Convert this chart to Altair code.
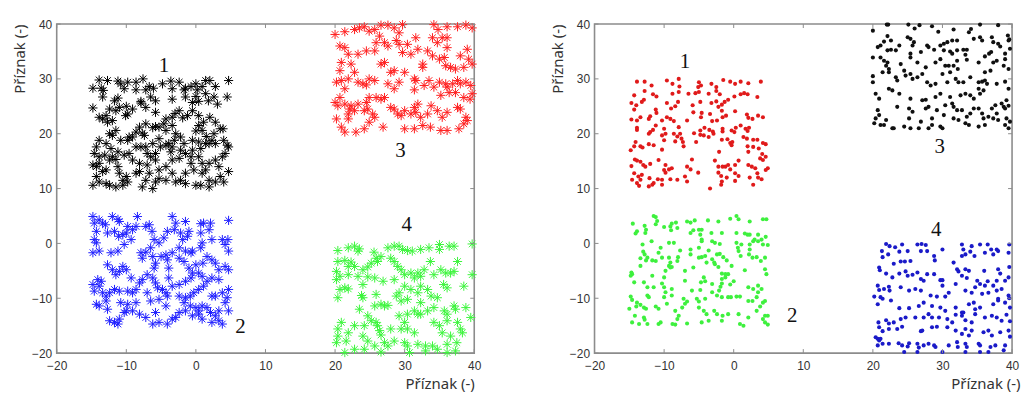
import altair as alt
import pandas as pd

# ---------------- data ----------------
tick_values = [-20, -10, 0, 10, 20, 30, 40]
label_text = ["1", "2", "3", "4"]
left_label_x = [-4.6, 6.4, 29.4, 30.3]
left_label_y = [32.4, -15.3, 16.8, 3.4]
right_label_x = [-7.0, 8.4, 29.6, 29.1]
right_label_y = [33.1, -13.3, 17.5, 2.5]

# left panel, cluster 1 (black asterisks)
left_c1 = [[-14.8,28.3],[-13.9,29.8],[-13.6,28.3],[-13.3,27.9],[-12.7,29.7],[-13.4,26.7],[-14.8,24.7],[-13.9,23.0],[-13.4,22.7],[-12.9,23.3],
[-12.7,22.1],[-12.0,22.4],[-12.4,24.5],[-11.7,26.0],[-11.2,26.5],[-11.0,24.8],[-11.2,29.6],[-10.0,25.0],[-10.1,23.3],[-9.8,23.6],
[-10.3,28.2],[-10.8,29.1],[-9.8,29.4],[-8.6,28.0],[-8.6,29.4],[-7.9,25.6],[-7.9,25.9],[-7.6,30.0],[-6.7,28.6],[-6.1,28.3],
[-7.2,28.0],[-5.8,26.0],[-4.8,29.1],[-3.6,29.6],[-3.4,26.3],[-3.4,28.2],[-3.0,23.7],[-2.4,29.4],[-1.7,28.0],[-1.5,28.3],
[-0.7,28.6],[0.0,29.1],[0.2,28.0],[0.9,28.6],[0.0,26.8],[0.4,25.9],[1.4,29.7],[2.0,29.7],[2.8,28.6],[4.7,29.7],
[1.8,26.0],[3.1,25.4],[4.5,26.7],[2.6,26.7],[1.4,27.3],[-0.5,25.7],[-1.5,26.7],[-0.5,24.2],[-1.2,23.3],[-1.9,22.9],
[0.4,23.3],[1.1,22.1],[2.0,23.0],[2.8,22.1],[3.5,20.9],[3.9,20.9],[2.6,20.0],[2.3,18.8],[1.5,19.5],[0.9,20.6],
[0.0,20.5],[0.4,18.5],[1.9,18.2],[2.8,18.2],[4.0,18.8],[4.5,17.9],[4.2,16.4],[3.8,15.8],[4.7,17.6],[-2.4,24.2],
[-3.4,23.0],[-4.3,22.7],[-3.4,21.5],[-4.3,20.6],[-4.6,21.8],[-5.3,21.2],[-5.8,21.3],[-6.2,21.1],[-7.2,21.8],[-8.1,21.2],
[-8.6,20.3],[-7.7,20.1],[-7.4,19.7],[-9.1,19.4],[-9.8,18.8],[-9.6,19.4],[-10.8,18.8],[-11.5,20.6],[-12.0,19.7],[-12.4,20.0],
[-12.9,18.2],[-12.2,17.3],[-12.0,15.8],[-11.2,16.7],[-10.3,16.1],[-11.5,15.3],[-12.4,15.2],[-13.1,16.1],[-13.9,15.8],[-14.6,16.4],
[-14.8,14.3],[-14.3,14.0],[-13.9,14.6],[-12.9,13.4],[-13.4,13.1],[-14.3,12.2],[-13.9,11.2],[-14.8,10.6],[-12.9,10.9],[-12.4,10.6],
[-11.5,10.3],[-10.5,10.6],[-10.0,12.2],[-9.8,11.2],[-8.6,12.8],[-8.1,14.6],[-7.9,17.6],[-7.2,17.6],[-7.0,16.4],[-6.5,15.8],
[-5.8,15.2],[-5.8,16.4],[-6.2,18.2],[-5.3,19.1],[-5.1,17.6],[-4.3,17.9],[-3.9,18.2],[-3.4,17.6],[-3.1,18.8],[-2.9,20.0],
[-2.2,19.4],[-1.7,18.2],[-2.2,17.0],[-1.5,16.4],[-0.7,15.8],[-0.5,17.0],[0.4,15.8],[0.9,14.6],[1.9,14.6],[2.8,15.2],
[3.3,14.0],[4.7,13.1],[4.0,11.2],[3.5,12.2],[2.8,11.2],[1.9,11.5],[1.4,13.4],[0.9,12.8],[0.7,10.6],[1.9,10.3],
[0.0,10.6],[-1.5,10.9],[-2.2,11.5],[-2.9,11.2],[-4.3,11.5],[-5.3,11.8],[-5.8,11.2],[-6.2,10.0],[-7.7,10.3],[-7.2,11.5],
[-6.7,12.8],[-8.1,13.1],[-5.3,13.4],[-4.3,14.0],[-3.4,15.2],[-2.4,15.5],[-1.5,12.8],[-0.3,13.4],[0.7,17.3],[1.4,18.2],
[-0.7,14.6],[-3.4,12.8],[-9.1,15.2],[-9.6,16.4],[-8.6,17.6],[-11.0,12.8],[-10.5,11.5],[-11.2,14.0],[-7.0,14.3],[-3.6,16.7],
[-0.5,18.8],[0.4,21.5],[-5.8,23.9],[-6.5,26.7],[-7.2,24.8],[-9.1,24.5],[-11.5,24.2],[-13.9,18.8],[-14.3,17.6]]

# left panel, cluster 2 (blue asterisks)
left_c2 = [[-14.8,4.9],[-14.6,3.7],[-14.8,-1.7],[-14.3,2.2],[-13.9,4.3],[-13.4,3.7],[-13.0,3.4],[-12.7,1.9],[-12.0,4.9],[-11.7,2.2],
[-11.2,4.4],[-11.0,4.0],[-11.1,1.3],[-10.5,1.6],[-10.0,1.9],[-9.8,3.1],[-9.1,2.5],[-8.6,3.1],[-8.4,4.9],[-9.3,0.7],
[-10.3,-0.2],[-11.2,-1.4],[-12.2,-1.7],[-13.9,-1.4],[-14.3,0.1],[-14.6,0.7],[-7.2,3.1],[-6.7,3.4],[-6.3,2.2],[-6.0,0.7],
[-6.5,-0.8],[-7.2,-1.6],[-7.9,-1.7],[-7.7,-2.7],[-6.2,-2.4],[-6.0,-4.5],[-5.8,-3.6],[-5.3,0.1],[-4.6,1.0],[-4.1,2.2],
[-3.4,4.9],[-2.9,3.7],[-3.1,2.5],[-2.2,1.9],[-1.5,4.0],[-1.0,2.2],[-1.2,1.3],[-1.9,0.7],[-2.4,-0.8],[-1.5,-1.4],
[-0.7,-1.7],[-0.5,-1.4],[-3.4,-1.7],[-4.3,-2.1],[-5.0,-2.4],[-4.1,-3.0],[-3.9,-4.5],[-2.4,-2.7],[-1.7,-3.3],[-1.0,-4.5],
[0.0,-3.9],[0.7,3.6],[1.1,3.7],[2.1,3.7],[1.9,2.5],[0.7,1.9],[2.3,0.7],[0.9,0.1],[0.7,-0.8],[1.6,-2.4],
[1.0,-3.6],[2.3,-3.0],[2.8,-3.6],[3.3,-4.8],[4.2,-4.2],[4.7,-4.8],[4.7,-1.4],[4.2,-0.2],[4.6,0.7],[3.8,0.7],
[4.7,4.2],[-14.8,-7.5],[-14.6,-8.7],[-14.1,-6.6],[-13.6,-6.9],[-13.9,-7.8],[-12.7,-3.9],[-12.0,-4.8],[-11.5,-5.7],[-11.0,-5.1],
[-10.5,-4.2],[-10.0,-4.8],[-9.3,-6.3],[-13.4,-9.0],[-12.9,-9.6],[-12.4,-9.0],[-11.7,-8.4],[-11.0,-8.7],[-9.8,-8.7],[-9.1,-9.0],
[-8.6,-8.4],[-8.1,-7.2],[-7.7,-6.6],[-7.0,-5.7],[-6.2,-6.3],[-5.8,-7.2],[-5.5,-8.1],[-4.8,-8.4],[-4.3,-9.0],[-3.9,-6.3],
[-3.4,-7.8],[-2.4,-7.5],[-1.5,-6.9],[-0.7,-6.3],[-0.5,-5.4],[0.4,-5.4],[0.9,-6.0],[1.6,-6.9],[1.1,-7.8],[0.4,-8.4],
[-0.3,-9.0],[-0.8,-9.6],[-1.5,-9.9],[-2.4,-9.6],[-1.7,-10.8],[-0.8,-11.4],[0.0,-11.7],[0.4,-12.3],[0.9,-11.4],[1.6,-11.7],
[2.1,-12.6],[2.8,-13.2],[3.3,-12.3],[4.2,-10.8],[4.7,-8.4],[4.5,-9.9],[3.8,-9.0],[2.8,-9.6],[2.3,-9.6],[3.3,-6.6],
[2.3,-6.3],[-4.1,-9.6],[-5.3,-10.2],[-6.5,-10.5],[-7.0,-9.0],[-14.3,-11.1],[-13.9,-11.4],[-12.7,-12.0],[-12.4,-14.1],[-11.7,-14.4],
[-11.0,-13.8],[-11.2,-14.7],[-10.3,-12.6],[-10.0,-12.3],[-9.1,-12.3],[-8.1,-12.9],[-7.2,-13.5],[-6.2,-14.7],[-5.3,-14.4],[-4.1,-14.7],
[-3.4,-13.8],[-2.9,-13.5],[-2.4,-12.6],[-1.5,-12.3],[-0.5,-13.2],[0.4,-12.9],[0.9,-13.8],[2.3,-14.4],[3.3,-14.1],[3.8,-14.7],
[4.7,-12.3],[-5.8,-12.6],[-4.3,-11.4],[-8.6,-10.8],[-9.8,-11.1],[-10.8,-10.8],[-12.9,-10.5]]

# left panel, cluster 3 (red asterisks)
left_c3 = [[20.0,38.1],[21.4,38.6],[22.8,39.0],[23.5,39.3],[24.2,39.5],[24.9,38.7],[25.7,39.0],[26.6,39.8],[27.6,39.8],[28.5,39.3],
[29.7,39.9],[29.2,38.4],[34.2,39.9],[34.8,39.0],[36.1,39.5],[37.6,39.5],[38.8,39.8],[39.7,39.3],[20.7,36.0],[21.4,35.7],
[21.9,34.5],[20.9,33.0],[20.7,31.5],[22.3,32.7],[23.3,34.5],[24.5,35.1],[25.7,35.1],[25.9,36.6],[26.4,37.8],[27.1,36.6],
[27.6,36.0],[28.8,37.0],[29.2,36.3],[29.7,34.8],[30.4,36.3],[30.9,34.5],[31.6,37.5],[31.9,35.4],[32.6,32.7],[33.3,35.1],
[34.0,34.2],[34.0,37.5],[34.7,36.6],[35.4,37.5],[36.1,37.5],[36.1,35.7],[35.7,33.9],[35.0,33.6],[35.9,32.4],[38.0,34.2],
[39.0,35.4],[39.2,33.6],[38.5,32.1],[39.7,32.7],[37.3,31.8],[36.6,32.1],[20.2,29.4],[20.9,29.7],[21.4,28.2],[20.7,26.6],
[21.9,30.0],[22.8,31.2],[23.3,29.4],[24.0,29.1],[24.5,28.9],[24.9,30.0],[25.7,29.7],[26.6,32.7],[27.1,33.0],[27.6,29.1],
[28.0,31.2],[28.5,31.5],[28.5,28.2],[29.2,29.4],[30.0,31.2],[31.4,30.0],[31.6,29.7],[31.4,28.0],[32.6,32.1],[32.8,28.8],
[33.5,29.7],[34.2,28.5],[35.0,29.4],[35.2,27.0],[35.9,29.1],[36.1,28.5],[36.9,29.1],[37.6,29.7],[38.0,29.1],[38.8,29.4],
[39.5,28.8],[39.7,27.3],[39.4,26.3],[38.5,26.6],[37.3,27.5],[36.4,27.5],[20.0,25.7],[20.4,25.1],[21.4,25.4],[22.3,25.1],
[22.1,24.5],[22.8,24.2],[23.3,25.4],[24.5,25.7],[24.7,24.5],[24.9,26.6],[25.9,26.6],[26.6,26.3],[27.1,26.6],[25.4,23.6],
[25.7,23.0],[24.9,22.1],[24.2,24.2],[21.9,22.7],[20.2,22.7],[20.9,21.2],[21.4,20.3],[23.0,20.3],[24.2,20.9],[26.9,21.2],
[28.0,24.8],[28.5,24.5],[29.5,23.3],[30.0,24.2],[30.9,23.6],[31.4,24.8],[31.9,25.4],[31.6,23.9],[32.3,23.0],[33.3,23.6],
[33.8,25.1],[34.7,24.2],[35.4,23.0],[36.1,23.9],[37.6,24.8],[38.0,24.5],[38.8,23.0],[39.0,22.4],[38.5,21.8],[37.8,20.9],
[36.1,20.6],[35.2,20.6],[33.7,21.2],[32.6,21.5],[31.4,20.9],[30.0,20.9],[29.0,23.6],[21.9,23.6]]

# left panel, cluster 4 (green asterisks)
left_c4 = [[20.4,-1.3],[21.9,-0.8],[22.8,-0.5],[23.5,-1.0],[23.3,-1.4],[25.6,-1.6],[26.1,-3.3],[27.6,-0.8],[28.5,-0.5],[29.2,-0.5],
[29.7,-1.1],[30.4,-1.3],[31.1,-1.4],[32.3,-1.1],[33.5,-0.8],[35.0,-0.2],[35.0,-1.1],[36.4,-0.5],[37.1,-0.5],[39.7,-0.1],
[20.4,-3.3],[21.4,-3.1],[22.3,-3.4],[22.8,-4.2],[20.2,-5.1],[20.7,-6.0],[20.2,-6.6],[21.9,-4.2],[21.9,-5.7],[23.3,-6.0],
[24.0,-4.8],[24.7,-4.3],[25.2,-3.6],[25.9,-2.7],[26.6,-2.4],[24.7,-6.1],[25.7,-6.3],[26.9,-6.9],[24.0,-7.5],[21.4,-8.1],
[20.7,-8.4],[21.9,-8.3],[20.4,-9.9],[23.8,-9.5],[24.0,-9.9],[25.9,-9.3],[28.0,-2.7],[28.5,-3.3],[29.0,-4.2],[29.5,-4.8],
[30.0,-5.7],[30.9,-5.4],[31.4,-6.3],[31.9,-5.4],[32.3,-6.0],[32.8,-4.8],[33.7,-3.3],[34.2,-5.7],[35.2,-4.8],[35.9,-5.4],
[36.6,-5.4],[37.6,-3.3],[37.1,-5.1],[35.6,-7.5],[36.1,-8.1],[38.5,-7.8],[39.7,-5.7],[30.0,-7.8],[30.9,-8.4],[31.9,-9.0],
[32.3,-7.8],[33.3,-8.4],[33.8,-9.6],[32.3,-10.8],[34.7,-9.9],[28.5,-6.6],[29.2,-9.0],[28.8,-9.6],[29.5,-10.5],[30.4,-10.2],
[26.6,-11.1],[27.6,-11.3],[27.1,-11.4],[25.7,-11.4],[23.5,-12.0],[24.7,-13.2],[25.2,-14.1],[25.9,-14.4],[26.1,-15.0],[26.4,-15.9],
[26.6,-16.7],[27.1,-18.1],[28.0,-15.6],[29.5,-15.6],[30.0,-14.4],[30.4,-12.9],[31.4,-12.3],[31.9,-12.9],[30.4,-15.6],[31.4,-16.3],
[32.3,-12.9],[33.3,-12.3],[34.2,-11.7],[35.7,-12.3],[36.1,-12.9],[37.1,-11.4],[37.3,-12.0],[38.8,-11.7],[39.5,-13.5],[37.6,-14.4],
[36.1,-14.1],[35.0,-15.0],[34.2,-14.4],[35.4,-16.3],[36.6,-16.9],[38.3,-16.3],[38.0,-15.6],[37.5,-18.1],[36.1,-18.4],[34.7,-19.3],
[34.0,-18.7],[33.0,-18.7],[31.9,-18.4],[30.4,-18.7],[30.0,-18.1],[28.5,-17.8],[27.6,-18.7],[26.6,-19.8],[24.2,-19.3],[22.8,-19.3],
[21.4,-19.9],[20.2,-18.1],[20.4,-16.9],[20.9,-14.4],[20.4,-15.6],[21.9,-16.3],[22.8,-15.0],[24.2,-15.0],[24.0,-16.9],[24.7,-17.8],
[25.7,-18.7],[21.6,-17.8],[29.2,-13.2],[36.1,-19.9],[37.3,-19.6],[33.0,-19.6],[30.7,-19.9]]

# right panel, cluster 1 (red dots)
right_c1 = [[-13.9,29.5],[-12.8,29.5],[-11.8,28.8],[-9.6,29.7],[-8.8,29.1],[-7.9,30.0],[-7.8,28.6],[-5.0,29.4],[-4.7,28.8],[-5.1,28.5],
[-3.2,29.1],[-2.5,28.5],[-1.5,29.8],[-0.5,29.5],[0.2,29.1],[1.0,29.5],[2.1,29.2],[3.9,29.5],[-14.3,27.0],[-12.8,27.8],
[-11.6,27.2],[-11.1,26.8],[-8.8,27.3],[-7.9,27.6],[-6.5,27.3],[-5.5,27.4],[-5.0,27.6],[-3.6,27.3],[-2.5,27.8],[-2.0,27.2],
[-0.8,26.2],[0.1,26.8],[1.0,27.2],[1.5,27.4],[2.0,27.2],[3.4,26.7],[-14.7,25.6],[-14.0,25.2],[-13.2,25.8],[-12.9,26.2],
[-9.6,25.6],[-8.0,25.8],[-4.8,25.8],[-3.2,25.6],[-2.5,25.9],[-1.7,25.3],[-1.3,25.8],[-14.3,24.4],[-11.2,24.4],[-11.1,23.8],
[-9.0,24.6],[-8.4,25.0],[-5.9,25.2],[-5.8,23.9],[-4.6,23.8],[-3.4,23.6],[-2.2,24.9],[-1.7,24.2],[0.2,24.1],[1.9,23.5],
[3.5,23.3],[-14.7,22.6],[-13.9,22.4],[-13.4,23.0],[-12.2,22.7],[-12.0,23.2],[-10.3,22.4],[-9.6,23.0],[-9.1,22.7],[-8.6,22.3],
[-6.7,22.4],[-4.7,23.0],[-3.1,22.3],[-2.4,22.4],[-1.6,23.0],[-1.1,23.3],[2.1,22.9],[2.7,22.7],[4.2,23.0],[-13.9,21.1],
[-13.9,20.7],[-11.6,20.7],[-11.2,21.5],[-10.0,20.9],[-7.9,21.2],[-5.7,20.1],[-4.8,20.6],[-4.2,21.1],[-3.5,20.7],[-3.0,20.4],
[-2.9,20.0],[-1.6,20.9],[-1.6,20.4],[-0.3,20.6],[0.3,21.1],[0.1,20.3],[1.0,21.5],[1.7,20.9],[2.2,21.1],[2.0,20.5],
[-12.2,20.0],[-12.0,20.3],[-10.3,19.7],[-9.8,20.0],[-8.6,20.0],[-8.1,19.5],[-7.7,20.0],[-7.5,19.1],[-8.4,18.6],[-7.3,18.5],
[-4.8,19.8],[-4.3,19.7],[-3.6,19.4],[-1.7,18.9],[-0.9,19.0],[-0.5,18.3],[-0.2,18.5],[1.4,19.4],[1.9,19.1],[2.8,18.9],
[3.4,18.9],[4.2,18.3],[4.6,18.1],[-14.1,18.5],[-14.3,17.7],[-14.8,17.0],[-13.4,17.7],[-13.1,17.5],[-12.2,18.1],[-11.5,17.9],
[-10.3,17.1],[-10.0,18.8],[-7.2,17.7],[-5.4,18.5],[-2.1,16.7],[-0.3,17.9],[2.0,17.7],[2.8,17.6],[2.1,16.7],[3.6,17.3],
[4.1,16.3],[4.6,15.8],[-14.2,15.3],[-13.9,15.1],[-13.4,14.9],[-13.0,14.3],[-12.7,14.0],[-12.0,14.5],[-10.8,15.2],[-9.8,14.3],
[-9.3,13.5],[-8.9,13.7],[-6.7,14.0],[-6.0,15.3],[-6.2,13.5],[-2.7,15.1],[-2.2,14.0],[-1.6,14.0],[-1.2,14.0],[-0.8,14.3],
[-0.5,13.5],[0.2,14.3],[0.7,15.1],[2.1,14.3],[2.6,14.0],[3.1,13.7],[3.8,15.5],[4.2,15.2],[4.9,13.7],[4.6,13.4],
[3.4,12.8],[-14.7,14.1],[-14.3,12.8],[-13.7,12.2],[-13.2,12.5],[-14.6,11.6],[-13.4,11.6],[-12.1,11.9],[-11.5,11.0],[-10.9,11.7],
[-10.3,11.6],[-10.0,13.4],[-9.8,12.9],[-9.1,11.7],[-8.1,11.6],[-7.0,12.2],[-6.7,11.3],[-5.1,12.9],[-2.2,12.9],[-1.8,12.3],
[-1.0,12.0],[0.2,12.8],[0.7,12.3],[2.3,12.0],[3.5,12.0],[4.0,11.7],[-13.9,11.0],[-13.6,10.5],[-12.2,10.4],[-11.7,10.7],
[-10.3,10.7],[-3.4,10.0],[-1.7,11.3],[-1.8,10.7],[0.2,11.4],[2.8,10.7]]

# right panel, cluster 2 (green dots)
right_c2 = [[-11.5,5.0],[-11.2,4.8],[-11.0,4.1],[-11.2,3.5],[-14.5,3.6],[-13.9,2.2],[-14.1,1.8],[-12.8,3.2],[-12.6,2.5],[-12.7,1.9],
[-10.0,3.0],[-9.1,3.1],[-8.9,3.6],[-8.3,3.8],[-8.1,2.8],[-9.0,2.4],[-6.7,4.0],[-6.2,3.8],[-5.6,4.2],[-3.7,4.2],
[-2.2,4.0],[-0.5,4.5],[0.4,5.0],[0.7,4.4],[2.3,4.0],[4.2,4.4],[4.7,4.4],[-6.2,1.9],[-5.8,2.4],[-5.0,2.5],
[-4.6,2.5],[-4.8,1.6],[-4.6,0.7],[-3.2,1.9],[-1.7,1.9],[0.4,1.9],[1.6,1.8],[2.0,1.6],[2.3,1.6],[3.0,0.7],
[3.5,1.6],[4.0,0.7],[4.6,1.2],[-9.3,0.1],[-8.6,0.1],[-11.8,0.4],[-4.6,0.4],[-3.1,0.4],[-2.7,0.1],[-2.0,-0.1],
[0.4,0.1],[1.1,-0.2],[0.6,-0.8],[0.7,-1.4],[2.3,-0.2],[2.3,-1.1],[2.8,0.4],[3.5,0.4],[4.2,-0.2],[4.9,-0.3],
[-13.1,-0.2],[-10.5,-0.8],[-10.8,-1.7],[-7.7,-1.3],[-6.2,-1.1],[-5.0,-0.8],[-3.6,-1.3],[-13.0,-1.5],[-12.8,-2.0],[-12.4,-2.6],
[-13.4,-2.7],[-12.6,-3.1],[-11.7,-3.1],[-11.2,-3.2],[-10.3,-2.6],[-9.3,-2.6],[-9.1,-3.5],[-8.1,-3.2],[-8.0,-2.5],[-8.9,-4.3],
[-9.3,-4.1],[-6.2,-2.0],[-5.0,-2.6],[-4.6,-2.5],[-4.1,-2.3],[-3.1,-2.9],[-2.8,-3.5],[-2.4,-2.0],[-2.0,-1.9],[-1.5,-2.5],
[-1.0,-3.1],[1.0,-2.3],[2.2,-2.0],[2.7,-2.6],[3.3,-2.5],[3.9,-3.2],[4.5,-2.6],[-3.9,-3.5],[-13.4,-4.1],[-14.7,-5.3],
[-14.6,-5.6],[-14.8,-5.9],[-9.8,-5.0],[-10.0,-6.2],[-9.1,-4.4],[-7.0,-5.0],[-5.8,-4.4],[-2.7,-3.8],[-2.2,-4.3],[-1.7,-5.5],
[-1.2,-5.6],[-0.8,-5.6],[-0.3,-4.1],[1.6,-4.9],[4.5,-4.7],[4.7,-5.6],[-14.3,-7.1],[-12.9,-7.1],[-11.7,-5.9],[-4.3,-6.2],
[-4.1,-6.9],[-4.7,-7.1],[-12.4,-8.0],[-11.5,-8.0],[-10.3,-7.3],[-10.0,-8.0],[-8.9,-8.3],[-7.0,-6.8],[-6.0,-8.6],[-4.8,-8.5],
[-3.1,-7.4],[-1.9,-7.9],[-1.7,-7.3],[-1.7,-6.5],[-1.2,-6.2],[-0.5,-7.5],[0.0,-6.9],[2.1,-8.0],[2.8,-8.3],[3.5,-7.7],
[4.0,-8.3],[-2.1,-8.6],[-14.8,-9.7],[-14.6,-10.3],[-13.9,-10.8],[-13.4,-11.2],[-12.4,-9.5],[-12.2,-9.8],[-9.8,-8.9],[-10.0,-9.8],
[-8.9,-9.5],[-7.2,-10.1],[-6.7,-10.6],[-7.0,-11.0],[-5.3,-10.1],[-5.0,-10.6],[-4.1,-10.1],[-3.1,-8.9],[-2.4,-9.5],[-1.7,-9.8],
[-0.8,-9.8],[-0.4,-9.8],[0.4,-9.7],[0.9,-9.7],[2.1,-10.5],[2.7,-10.5],[3.3,-9.8],[3.5,-8.9],[4.2,-10.8],[4.5,-10.5],
[-9.6,-11.0],[-15.0,-11.9],[-14.0,-11.5],[-12.9,-11.7],[-12.6,-11.9],[-11.2,-11.5],[-10.8,-11.9],[-8.4,-12.3],[-7.9,-13.2],[-8.1,-13.8],
[-7.4,-11.7],[-5.0,-11.7],[-4.3,-12.3],[-3.9,-12.9],[-2.8,-12.3],[-2.4,-12.9],[-1.6,-13.2],[-0.8,-12.9],[0.7,-12.9],[3.3,-12.3],
[3.8,-11.5],[4.5,-13.2],[4.9,-13.2],[-14.2,-13.2],[-14.6,-14.4],[-12.9,-13.5],[-12.8,-13.9],[-13.6,-14.7],[-12.4,-14.7],[-10.8,-14.7],
[-10.5,-14.4],[-8.8,-14.7],[-8.4,-14.8],[-6.7,-14.6],[-4.6,-14.4],[-3.6,-14.1],[-1.7,-14.1],[0.9,-14.7],[1.4,-15.0],[2.1,-13.5],
[4.2,-13.8],[4.5,-14.4],[4.9,-14.8]]

# right panel, cluster 3 (black dots)
right_c3 = [[20.0,38.8],[22.0,39.9],[22.2,39.9],[25.1,39.9],[26.0,39.2],[26.7,39.8],[28.5,39.6],[29.4,38.6],[31.6,39.0],[33.8,38.5],
[34.1,39.1],[35.4,39.9],[38.0,39.8],[39.4,37.9],[39.6,37.2],[22.1,37.8],[21.6,36.8],[22.6,37.0],[25.0,37.6],[25.4,37.3],
[25.9,36.7],[25.7,36.1],[23.8,36.1],[21.1,36.1],[20.7,35.8],[22.1,35.2],[22.6,35.3],[23.3,35.2],[26.9,34.9],[27.8,36.1],
[28.0,35.8],[28.8,35.3],[29.7,36.1],[30.2,36.4],[30.7,36.7],[31.4,37.0],[32.1,37.0],[30.2,35.2],[31.1,35.0],[31.4,34.6],
[32.1,35.2],[33.0,35.3],[33.5,35.3],[34.5,37.3],[35.4,37.6],[35.7,37.0],[37.1,37.6],[37.3,36.7],[38.0,36.4],[38.3,35.9],
[39.5,37.0],[39.7,35.5],[20.0,33.9],[21.1,33.9],[21.6,33.3],[22.1,33.0],[22.3,31.8],[21.4,31.2],[20.0,30.5],[24.0,32.7],
[25.4,33.9],[25.4,34.6],[26.4,33.0],[27.6,32.1],[29.0,33.0],[29.7,33.6],[30.4,32.4],[30.9,32.4],[31.6,32.4],[32.1,33.3],
[32.2,31.8],[33.3,34.4],[33.5,33.5],[35.2,33.0],[36.1,34.1],[36.7,34.6],[37.0,34.9],[37.3,33.0],[37.8,33.3],[39.0,34.6],
[39.0,33.6],[38.8,32.4],[36.9,31.5],[36.1,31.2],[39.5,31.8],[20.0,29.4],[21.9,32.4],[22.3,31.2],[23.3,30.3],[23.5,29.7],
[24.5,31.5],[24.7,30.6],[25.4,30.9],[25.7,30.0],[26.4,30.3],[27.1,30.9],[27.8,29.4],[28.3,28.8],[29.0,29.1],[30.0,30.9],
[30.7,29.4],[31.1,31.2],[31.9,30.0],[32.3,29.4],[33.0,29.4],[34.0,30.3],[35.2,29.4],[35.7,29.5],[36.1,29.7],[36.4,29.1],
[37.8,29.1],[39.0,29.5],[39.5,28.2],[39.2,26.1],[39.5,25.1],[20.4,27.3],[20.9,26.4],[22.3,28.2],[22.8,27.9],[23.8,27.3],
[25.4,26.4],[27.1,26.1],[27.6,26.2],[29.0,26.7],[29.7,27.3],[30.4,25.2],[31.1,26.7],[31.4,25.5],[31.6,24.9],[32.1,24.3],
[32.6,27.0],[33.3,27.3],[34.0,27.0],[34.5,26.4],[35.2,28.2],[35.4,27.3],[35.9,27.9],[37.1,24.6],[37.6,25.2],[38.8,24.9],
[39.0,24.6],[38.5,25.5],[20.7,24.3],[20.9,23.4],[20.4,22.8],[20.2,21.9],[21.1,21.6],[21.9,22.5],[21.6,21.6],[22.8,21.0],
[23.5,24.9],[25.2,24.6],[25.2,22.8],[25.7,24.0],[25.4,21.0],[26.9,22.2],[27.6,24.6],[28.0,24.9],[28.5,22.8],[29.2,24.3],
[30.2,23.4],[31.6,22.8],[32.3,22.5],[32.8,24.3],[33.5,23.1],[34.0,23.7],[34.5,24.6],[35.2,24.6],[35.7,23.7],[35.9,22.8],
[36.6,23.1],[37.3,22.8],[37.8,23.7],[38.0,22.5],[39.2,22.8],[39.7,22.2],[23.0,21.0],[24.5,21.3],[26.6,21.0],[28.0,21.0],
[28.5,21.6],[29.7,21.3],[30.0,21.0],[33.3,21.9],[33.8,21.6],[35.2,21.3],[36.1,21.6],[39.0,21.6],[39.5,21.0]]

# right panel, cluster 4 (blue dots)
right_c4 = [[21.9,-0.1],[22.4,-0.5],[23.2,-0.7],[24.2,-0.2],[26.4,-0.2],[27.0,-0.1],[27.6,-0.3],[27.8,-1.4],[30.0,-1.1],[32.8,-0.2],
[33.0,-1.1],[34.2,-0.5],[35.4,-0.2],[36.5,-0.2],[37.0,-1.1],[37.8,-1.1],[39.6,-0.2],[21.3,-1.4],[21.4,-2.5],[22.2,-2.0],
[23.0,-3.7],[23.8,-1.5],[24.0,-3.3],[24.6,-3.3],[25.0,-1.4],[25.4,-3.2],[26.9,-1.4],[28.8,-2.3],[28.9,-3.1],[31.6,-3.5],
[32.8,-2.3],[33.3,-2.0],[34.0,-1.5],[34.6,-2.3],[36.1,-1.7],[37.3,-2.0],[38.0,-1.4],[39.5,-1.7],[39.6,-4.3],[20.9,-4.4],
[21.0,-4.9],[21.9,-5.5],[22.8,-6.2],[23.8,-5.5],[24.7,-5.1],[25.0,-5.9],[25.7,-5.7],[26.4,-5.3],[26.9,-6.5],[27.3,-6.8],
[27.8,-5.6],[28.8,-5.6],[29.7,-6.7],[30.0,-6.7],[32.1,-4.7],[32.3,-5.1],[33.3,-4.7],[33.8,-5.0],[36.0,-5.0],[38.0,-4.7],
[38.3,-5.5],[32.8,-5.9],[33.5,-6.3],[35.0,-6.8],[35.4,-7.4],[36.1,-7.7],[36.5,-6.9],[37.8,-6.8],[39.5,-6.2],[20.7,-7.7],
[20.9,-8.5],[21.1,-9.8],[21.6,-8.3],[22.3,-7.9],[22.4,-8.6],[20.2,-9.7],[21.4,-10.1],[22.6,-10.4],[24.0,-8.0],[25.2,-8.6],
[26.1,-8.3],[26.9,-8.6],[28.3,-9.5],[29.2,-9.7],[30.0,-7.7],[30.4,-9.7],[30.9,-9.0],[31.9,-7.4],[33.3,-8.6],[34.2,-9.0],
[34.7,-8.0],[35.7,-9.2],[36.6,-9.0],[37.3,-7.7],[37.8,-8.6],[38.5,-8.3],[39.0,-6.8],[39.5,-9.5],[39.6,-10.0],[20.7,-11.1],
[23.8,-11.8],[25.2,-11.8],[26.6,-11.4],[27.3,-10.8],[28.5,-11.4],[29.7,-11.7],[30.4,-12.3],[31.9,-11.7],[32.8,-12.6],[33.8,-11.1],
[34.5,-10.8],[34.7,-12.0],[35.4,-11.7],[37.3,-11.1],[38.0,-10.1],[38.0,-10.4],[39.0,-10.8],[39.7,-11.7],[20.8,-14.4],[21.9,-14.0],
[22.3,-14.6],[23.0,-14.4],[24.0,-13.8],[24.7,-13.5],[26.1,-13.5],[27.3,-13.5],[28.0,-12.9],[28.5,-13.5],[29.5,-13.5],[30.7,-13.8],
[31.4,-14.4],[31.9,-13.0],[32.8,-13.2],[33.0,-12.6],[33.3,-14.0],[34.2,-14.4],[34.7,-12.9],[36.1,-13.5],[37.1,-13.2],[37.8,-13.5],
[38.5,-14.1],[39.2,-13.0],[39.7,-14.2],[20.9,-15.3],[21.4,-16.0],[22.3,-15.6],[23.5,-15.6],[24.2,-15.2],[26.9,-16.0],[27.1,-15.9],
[28.5,-15.3],[29.2,-15.2],[30.7,-15.3],[31.9,-15.9],[32.8,-16.5],[33.3,-15.6],[33.8,-16.8],[34.2,-15.9],[35.9,-16.2],[36.6,-15.9],
[37.1,-16.8],[38.3,-16.2],[39.5,-15.9],[39.7,-17.0],[20.4,-17.1],[20.7,-17.4],[20.9,-17.7],[21.1,-17.4],[21.4,-18.3],[22.3,-18.3],
[23.7,-18.2],[24.2,-18.6],[25.0,-18.8],[25.2,-18.2],[26.4,-18.3],[26.6,-19.0],[27.3,-18.6],[28.0,-18.3],[28.8,-18.6],[29.0,-18.9],
[30.9,-18.6],[32.1,-18.0],[32.2,-18.9],[33.3,-18.3],[33.5,-18.9],[35.2,-18.3],[35.4,-18.6],[36.9,-18.9],[37.6,-18.6],[39.0,-18.6],
[20.7,-18.6],[24.5,-19.8],[26.4,-19.8],[30.0,-19.8],[33.3,-19.8],[35.4,-19.8],[36.6,-19.8],[38.8,-19.5]]

groups = ["c1", "c2", "c3", "c4"]
left_colors = ["#000000", "#1f1fff", "#ff1f1f", "#3cf53c"]
right_colors = ["#e01a1a", "#3ef03e", "#101010", "#1a1ac8"]

# ---------------- styling ----------------
W, H = 420, 331
AXIS_GRAY = "#8c8c8c"
ASTERISK = "M0,-1L0,1M-1,0L1,0M-0.72,-0.72L0.72,0.72M-0.72,0.72L0.72,-0.72"


def frame(clusters):
    rows = []
    for g, pts in zip(groups, clusters):
        for x, y in pts:
            rows.append({"x": x, "y": y, "g": g})
    return pd.DataFrame(rows)


def panel(clusters, colors, lab_x, lab_y, title_x, marker):
    df = frame(clusters)
    xs = alt.Scale(domain=[-20, 40], nice=False, zero=False)
    ys = alt.Scale(domain=[-20, 40], nice=False, zero=False)
    xaxis = alt.Axis(values=tick_values, ticks=False, domain=False, grid=False,
                     labelFont="Liberation Sans", labelFontSize=12, labelColor="#333333",
                     labelPadding=7, title="Příznak (-)", titleFont="Noto Sans",
                     titleFontSize=15, titleFontWeight="normal", titleColor="#333333",
                     titleAnchor="end", titleAlign="right", titleX=title_x, titleY=31,
                     titleBaseline="middle", labelFlush=False)
    yaxis = alt.Axis(values=tick_values, ticks=False, domain=False, grid=False,
                     labelFont="Liberation Sans", labelFontSize=12, labelColor="#333333",
                     labelPadding=5, title="Příznak (-)", titleFont="Noto Sans",
                     titleFontSize=15, titleFontWeight="normal", titleColor="#333333",
                     titleAnchor="end", titleAlign="right", titleX=-37, titleY=0,
                     titleBaseline="middle", labelFlush=False)
    base = alt.Chart(df)
    if marker == "asterisk":
        pts = base.mark_point(shape=ASTERISK, size=85, filled=False, strokeWidth=1.0, opacity=1)
    else:
        pts = base.mark_point(shape="circle", size=17, filled=True, opacity=1)
    pts = pts.encode(
        x=alt.X("x:Q", scale=xs, axis=xaxis),
        y=alt.Y("y:Q", scale=ys, axis=yaxis),
        color=alt.Color("g:N", scale=alt.Scale(domain=groups, range=colors), legend=None),
    )
    lab_df = pd.DataFrame({"x": lab_x, "y": lab_y, "t": label_text})
    labels = alt.Chart(lab_df).mark_text(font="Liberation Serif", fontSize=21,
                                         color="#111111", align="center", baseline="middle").encode(
        x=alt.X("x:Q", scale=xs), y=alt.Y("y:Q", scale=ys), text="t:N")
    tdf = pd.DataFrame({"v": tick_values})
    tick_style = dict(color=AXIS_GRAY, strokeWidth=1)
    tb = alt.Chart(tdf).mark_rule(**tick_style).encode(x=alt.X("v:Q", scale=xs), y=alt.value(H), y2=alt.value(H - 4))
    tt = alt.Chart(tdf).mark_rule(**tick_style).encode(x=alt.X("v:Q", scale=xs), y=alt.value(0), y2=alt.value(4))
    tl = alt.Chart(tdf).mark_rule(**tick_style).encode(y=alt.Y("v:Q", scale=ys), x=alt.value(0), x2=alt.value(4))
    tr = alt.Chart(tdf).mark_rule(**tick_style).encode(y=alt.Y("v:Q", scale=ys), x=alt.value(W), x2=alt.value(W - 4))
    return alt.layer(pts, labels, tb, tt, tl, tr).properties(width=W, height=H)


left = panel([left_c1, left_c2, left_c3, left_c4], left_colors, left_label_x, left_label_y, W, "asterisk")
right = panel([right_c1, right_c2, right_c3, right_c4], right_colors, right_label_x, right_label_y, W + 8, "dot")

chart = alt.hconcat(left, right, spacing=68).resolve_scale(color="independent").properties(
    padding={"left": 4, "top": 8, "right": 0, "bottom": 0},
    background="white",
).configure_view(stroke=AXIS_GRAY, strokeWidth=1.6)

chart.save("out.html", embed_options={"renderer": "svg", "actions": False})
